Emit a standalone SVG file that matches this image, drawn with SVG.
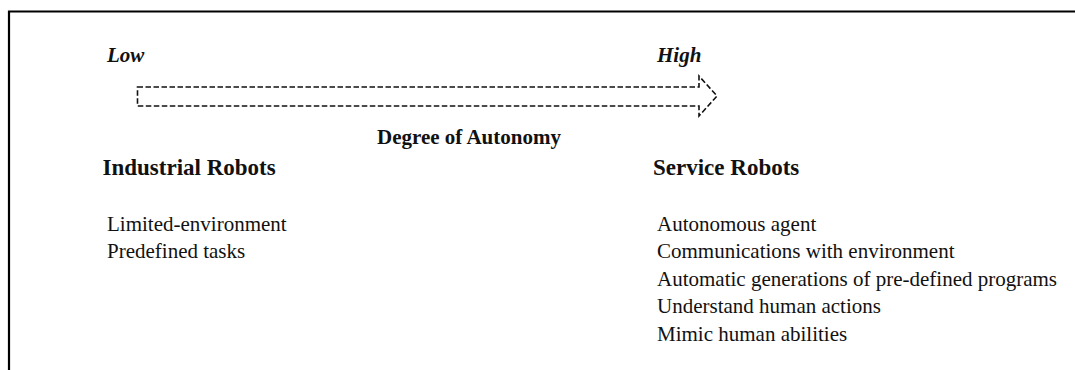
<svg xmlns="http://www.w3.org/2000/svg" width="1075" height="370" viewBox="0 0 1075 370">
<style>
text{font-family:"Liberation Serif","Times New Roman",serif;fill:#111;font-size:21px}
.b{font-weight:bold}
.i{font-style:italic}
.h{font-size:23px;font-weight:bold}
.frame{stroke:#000;stroke-width:2.2;fill:none}
.arrow{stroke:#111;stroke-width:1.6;fill:none;stroke-dasharray:5.5,2.5}
</style>
<rect width="1075" height="370" fill="#fff"/>
<g id="frame"><path class="frame" d="M1075,11.5 H9 V370"/></g>
<g id="connectors">
<path id="autonomy-arrow" class="arrow" d="M137.5,87 H699 V76 L717,96 L699,116 V106 H137.5 Z"/>
</g>
<g font-family="Liberation Serif, serif">
<g id="low"><text class="b i" x="107" y="62">Low</text></g>
<g id="high"><text class="b i" x="657" y="62">High</text></g>
<g id="degree"><text class="b" x="377" y="144">Degree of Autonomy</text></g>
<g id="industrial">
<text class="h" x="102.5" y="175">Industrial Robots</text>
<text x="107" y="231">Limited-environment</text>
<text x="107" y="258">Predefined tasks</text>
</g>
<g id="service">
<text class="h" x="653" y="175">Service Robots</text>
<text x="657" y="231">Autonomous agent</text>
<text x="657" y="258">Communications with environment</text>
<text x="657" y="286">Automatic generations of pre-defined programs</text>
<text x="657" y="313">Understand human actions</text>
<text x="657" y="341">Mimic human abilities</text>
</g>
</g>
</svg>
